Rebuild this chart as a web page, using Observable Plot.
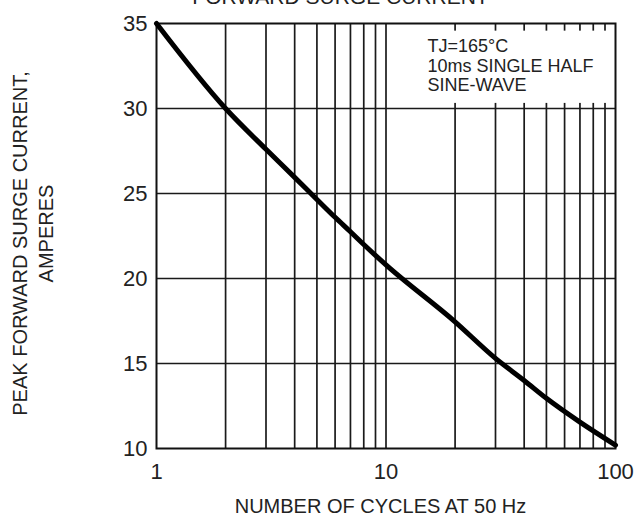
<!DOCTYPE html>
<html>
<head>
<meta charset="utf-8">
<script src="https://cdn.jsdelivr.net/npm/d3@7"></script>
<script src="https://cdn.jsdelivr.net/npm/@observablehq/plot@0.6"></script>
<style>
  html, body { margin: 0; padding: 0; background: #fff; }
</style>
</head>
<body>
<div id="chart"></div>
<script>
// Data
const cycles = [1, 2, 3, 4, 5, 6, 7, 8, 10, 20, 30, 40, 50, 70, 100];
const amps   = [35, 30, 27.6, 25.95, 24.65, 23.6, 22.75, 22.0, 20.8, 17.45, 15.3, 14.0, 12.95, 11.55, 10.2];

const xTickLabels = [1, 10, 100];
const yTickLabels = [10, 15, 20, 25, 30, 35];
const xGridValues = [2, 3, 4, 5, 6, 7, 8, 9, 10, 20, 30, 40, 50, 60, 70, 80, 90];
const yGridValues = [15, 20, 25, 30];

const titleText = "FORWARD SURGE CURRENT";
const xLabel = "NUMBER OF CYCLES AT 50 Hz";
const yLabel1 = "PEAK FORWARD SURGE CURRENT,";
const yLabel2 = "AMPERES";
const noteText = "TJ=165°C\n10ms SINGLE HALF\nSINE-WAVE";

const curve = cycles.map((c, i) => ({c, a: amps[i]}));

const font = "'Liberation Sans', Arial, Helvetica, sans-serif";
const ink = "#222";

const chart = Plot.plot({
  width: 644,
  height: 519,
  marginLeft: 156,
  marginRight: 29,
  marginTop: 23,
  marginBottom: 71,
  style: {fontFamily: font, fontSize: "22px", color: ink, background: "#fff", overflow: "visible"},
  x: {type: "log", domain: [1, 100], ticks: xTickLabels, tickFormat: d => String(d), tickSize: 0, tickPadding: 15, label: null},
  y: {domain: [10, 35], ticks: yTickLabels, tickSize: 0, tickPadding: 9, label: null},
  marks: [
    Plot.ruleX(xGridValues, {stroke: "#1a1a1a", strokeWidth: 1.7}),
    Plot.ruleY(yGridValues, {stroke: "#1a1a1a", strokeWidth: 1.7}),
    // white background behind the note
    Plot.rect([0], {x1: 10.36, x2: 99, y1: 30.3, y2: 34.55, fill: "#fff"}),
    Plot.frame({stroke: "#111", strokeWidth: 2}),
    Plot.line(curve, {x: "c", y: "a", stroke: "#000", strokeWidth: 5, curve: "monotone-x"}),
    Plot.text([noteText], {frameAnchor: "top-left", text: d => d, textAnchor: "start", lineAnchor: "top",
      dx: 271, dy: 15, fontSize: 18, lineHeight: 1.083, fill: ink}),
    Plot.text([titleText], {frameAnchor: "top", text: d => d, textAnchor: "middle", lineAnchor: "top", dx: -45.5, dy: -34, fontSize: 21, fill: ink}),
    Plot.text([xLabel], {frameAnchor: "bottom", text: d => d, textAnchor: "middle", lineAnchor: "top", dx: -5.5, dy: 50, fontSize: 20, fill: ink}),
    Plot.text([yLabel1], {frameAnchor: "left", text: d => d, textAnchor: "middle", lineAnchor: "middle", rotate: -90, dx: -136, dy: 7.5, fontSize: 20, fill: ink}),
    Plot.text([yLabel2], {frameAnchor: "left", text: d => d, textAnchor: "middle", lineAnchor: "middle", rotate: -90, dx: -110, dy: -2.5, fontSize: 20, fill: ink})
  ]
});
document.getElementById("chart").appendChild(chart);
</script>
</body>
</html>
